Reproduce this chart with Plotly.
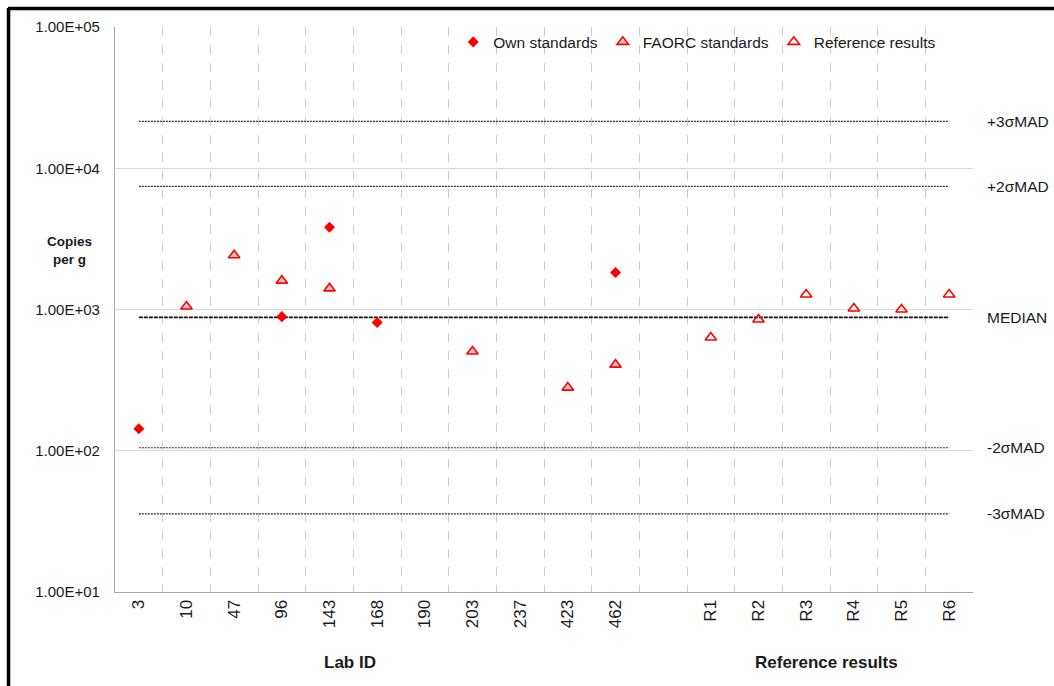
import math
import plotly.graph_objects as go

# ---------------- data ----------------
lab_ids = ["3", "10", "47", "96", "143", "168", "190", "203", "237", "423", "462"]
gap_cat = [" "]
ref_ids = ["R1", "R2", "R3", "R4", "R5", "R6"]
categories = lab_ids + gap_cat + ref_ids

own_x = ["3", "96", "143", "168", "462"]
own_y = [143, 890, 3820, 810, 1830]

faorc_x = ["10", "47", "96", "143", "203", "423", "462"]
faorc_y = [1050, 2420, 1600, 1410, 504, 280, 407]

ref_x = ["R1", "R2", "R3", "R4", "R5", "R6"]
ref_y = [633, 849, 1277, 1016, 1000, 1277]

limit_names = ["+3σMAD", "+2σMAD", "MEDIAN", "-2σMAD", "-3σMAD"]
limit_values = [21500, 7450, 880, 105, 35.7]

y_tickvals = [10, 100, 1000, 10000, 100000]
y_ticktext = ["1.00E+01", "1.00E+02", "1.00E+03", "1.00E+04", "1.00E+05"]

FONT = "Liberation Sans, Arial, sans-serif"
RED = "#ff0000"

fig = go.Figure()

# limit lines (median and sigma-MAD)
for name, val in zip(limit_names, limit_values):
    is_med = name == "MEDIAN"
    fig.add_trace(go.Scatter(
        x=[categories[0], categories[-1]], y=[val, val], mode="lines",
        line=dict(color="#111111" if is_med else "#333333",
                  width=1.8 if is_med else 1.2,
                  dash="4px,1px" if is_med else "2px,1px"),
        showlegend=False, hoverinfo="skip"))

fig.add_trace(go.Scatter(
    x=own_x, y=own_y, mode="markers", name="Own standards",
    marker=dict(symbol="diamond", size=8.5, color=RED, line=dict(width=0))))
fig.add_trace(go.Scatter(
    x=faorc_x, y=faorc_y, mode="markers", name="FAORC standards",
    marker=dict(symbol="triangle-up", size=10, color="rgba(255,90,90,0.35)",
                line=dict(width=1.6, color=RED))))
fig.add_trace(go.Scatter(
    x=ref_x, y=ref_y, mode="markers", name="Reference results",
    marker=dict(symbol="triangle-up-open", size=10, color=RED,
                line=dict(width=1.6, color=RED))))

# right-hand labels
for name, val in zip(limit_names, limit_values):
    fig.add_annotation(x=1.014, xref="paper", y=math.log10(val), yref="y",
                       text=name, showarrow=False, xanchor="left", yanchor="middle",
                       font=dict(family=FONT, size=15.5, color="#1a1a1a"))

# axis titles
fig.add_annotation(x=-0.0536, xref="paper", y=0.605, yref="paper",
                   text="<b>Copies<br>per g</b>", showarrow=False,
                   xanchor="center", yanchor="middle", align="center",
                   font=dict(family=FONT, size=13.5, color="#1a1a1a"))
fig.add_annotation(x=0.274, xref="paper", y=-0.124, yref="paper",
                   text="<b>Lab ID</b>", showarrow=False,
                   xanchor="center", yanchor="middle",
                   font=dict(family=FONT, size=17, color="#1a1a1a"))
fig.add_annotation(x=0.829, xref="paper", y=-0.124, yref="paper",
                   text="<b>Reference results</b>", showarrow=False,
                   xanchor="center", yanchor="middle",
                   font=dict(family=FONT, size=17, color="#1a1a1a"))

# frame (top and left black border)
fig.add_shape(type="line", xref="paper", yref="paper",
              x0=-0.1247, x1=1.0944, y0=1.0327, y1=1.0327,
              line=dict(color="black", width=3.5))
fig.add_shape(type="line", xref="paper", yref="paper",
              x0=-0.1241, x1=-0.1241, y0=1.0336, y1=-0.1735,
              line=dict(color="black", width=3.5))

fig.update_layout(
    width=1054, height=686, autosize=False,
    margin=dict(l=115, r=81, t=27, b=94),
    paper_bgcolor="white", plot_bgcolor="white",
    font=dict(family=FONT, size=15, color="#1a1a1a"),
    showlegend=True,
    legend=dict(orientation="h", x=0.963, xanchor="right", y=1.003, yanchor="top",
                bgcolor="rgba(0,0,0,0)", font=dict(family=FONT, size=15.5),
                itemwidth=30, tracegroupgap=0),
    xaxis=dict(type="category", categoryorder="array", categoryarray=categories,
               range=[-0.5, len(categories) - 0.5],
               tickson="boundaries", showgrid=True, gridcolor="#cccccc",
               griddash="dash", gridwidth=1,
               showline=True, linecolor="#a6a6a6", linewidth=1.2,
               ticks="", tickangle=-90, tickfont=dict(family=FONT, size=17),
               zeroline=False),
    yaxis=dict(type="log", range=[1, 5], tickvals=y_tickvals, ticktext=y_ticktext,
               showgrid=True, gridcolor="#d9d9d9", gridwidth=1,
               showline=True, linecolor="#a6a6a6", linewidth=1.2,
               ticks="", ticklabelstandoff=11,
               tickfont=dict(family=FONT, size=15), zeroline=False),
)

fig.write_html("out.html")
